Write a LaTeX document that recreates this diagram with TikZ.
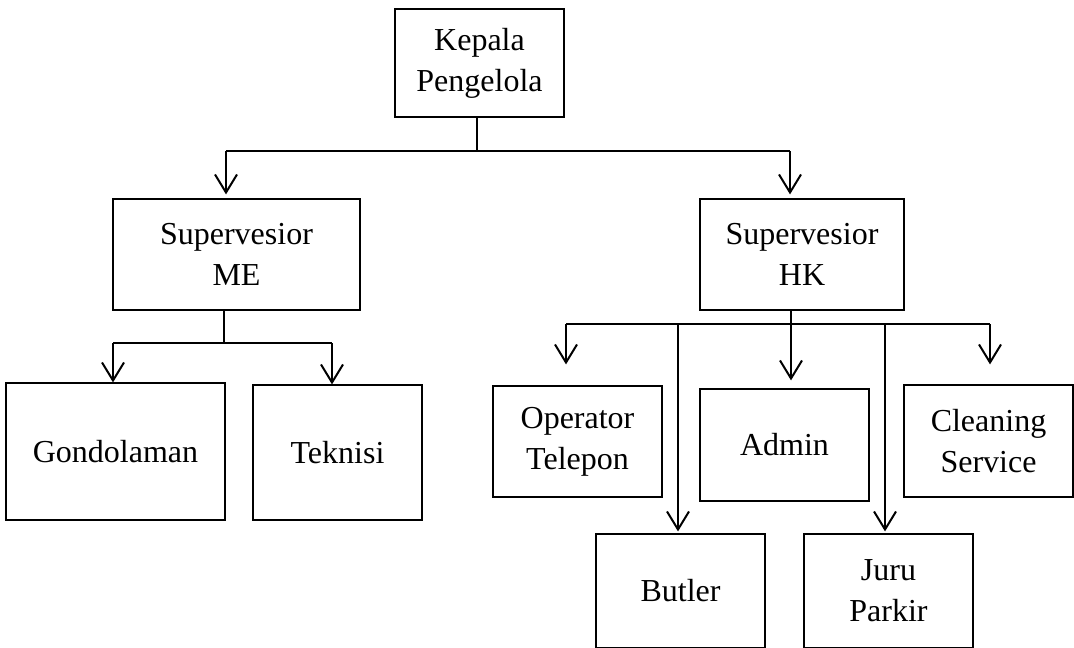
\documentclass[tikz,border=0pt]{standalone}
\usepackage{fontspec}
\setmainfont{Liberation Serif}
\usetikzlibrary{arrows.meta}
\tikzset{
	kotak/.style 2 args={draw, line width=0.6pt, align=center, inner sep=0pt, font=\fontsize{16}{20.5}\selectfont, minimum width=#1*0.5pt, minimum height=#2*0.5pt},
	garis/.style={line width=1pt},
	panah/.style={line width=1pt, -{Straight Barb[length=9pt, width=11pt, line width=1pt]}}
}

\begin{document}
\begin{tikzpicture}[x=0.5pt, y=-0.5pt]
			%%%%% START %%%%%
			
			\useasboundingbox (0, 0) rectangle (1074, 647);
			
			\node[kotak={169}{108}] (kepala) at (479.5, 63) {Kepala\\Pengelola};
			
			\node[kotak={247}{111}] (sme) at (236.5, 254.5) {Supervesior\\ME};
			\node[kotak={204}{111}] (shk) at (802, 254.5) {Supervesior\\HK};
			
			\node[kotak={219}{137}] (gondol) at (115.5, 451.5) {Gondolaman};
			\node[kotak={169}{135}] (teknisi) at (337.5, 452.5) {Teknisi};
			
			\node[kotak={169}{111}] (operator) at (577.5, 441.5) {Operator\\Telepon};
			\node[kotak={169}{112}] (admin) at (784.5, 445) {Admin};
			\node[kotak={169}{112}] (cleaning) at (988.5, 441) {Cleaning\\Service};
			\node[kotak={169}{114}] (butler) at (680.5, 591) {Butler};
			\node[kotak={169}{114}] (juru) at (888.5, 591) {Juru\\Parkir};
			
			\coordinate (k0) at (477, 151);
			\coordinate (k1) at (226, 151);
			\coordinate (k2) at (790, 151);
			
			\draw[garis] (kepala.south -| k0) -- (k0);
			\draw[garis] (k1) -- (k2);
			\draw[panah, shorten >=2pt] (k1) -- (k1 |- sme.north);
			\draw[panah, shorten >=2pt] (k2) -- (k2 |- shk.north);
			
			\coordinate (m0) at (224, 343);
			\coordinate (m1) at (113, 343);
			\coordinate (m2) at (332, 343);
			
			\draw[garis] (sme.south -| m0) -- (m0);
			\draw[garis] (m1) -- (m2);
			\draw[panah] (m1) -- (m1 |- gondol.north);
			\draw[panah] (m2) -- (m2 |- teknisi.north);
			
			\coordinate (h0) at (791, 324);
			\coordinate (h1) at (566, 324);
			\coordinate (h2) at (678, 324);
			\coordinate (h3) at (885, 324);
			\coordinate (h4) at (990, 324);
			
			\draw[garis] (shk.south -| h0) -- (h0);
			\draw[garis] (h1) -- (h4);
			\draw[panah, shorten >=10.5pt] (h1) -- (h1 |- operator.north);
			\draw[panah, shorten >=1pt] (h2) -- (h2 |- butler.north);
			\draw[panah, shorten >=4pt] (h0) -- (h0 |- admin.north);
			\draw[panah, shorten >=1pt] (h3) -- (h3 |- juru.north);
			\draw[panah, shorten >=10pt] (h4) -- (h4 |- cleaning.north);
			
			%%%%% END %%%%%
		\end{tikzpicture}
\end{document}
